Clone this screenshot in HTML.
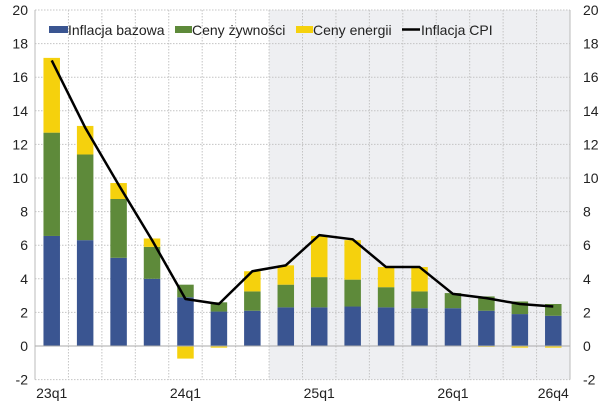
<!DOCTYPE html>
<html><head><meta charset="utf-8"><style>
html,body{margin:0;padding:0;background:#fff;}
svg{display:block;font-family:"Liberation Sans",Arial,sans-serif;}
</style></head><body>
<svg id="c" width="605" height="404" viewBox="0 0 605 404" xmlns="http://www.w3.org/2000/svg"></svg>
<script>
var s=document.getElementById('c'),h='';
var L=35,R=570,cw=(R-L)/16;
function Y(v){return 346-v*16.8;}
h+='<rect x="'+(L+7*cw)+'" y="'+Y(20)+'" width="'+(R-L-7*cw)+'" height="'+(Y(-2)-Y(20))+'" fill="#eeeff2"/>';
for(var v=-2;v<=20;v+=2){var y=Y(v);
 h+='<line x1="'+L+'" x2="'+R+'" y1="'+y+'" y2="'+y+'" stroke="#c4c4c4" stroke-dasharray="1.5,1.5"/>';
 h+='<text x="28" y="'+(y+5)+'" font-size="14" text-anchor="end" fill="#222">'+v+'</text>';
 h+='<text x="583" y="'+(y+5)+'" font-size="14" fill="#222">'+v+'</text>';}
for(var i=1;i<16;i++){var x=L+i*cw;h+='<line x1="'+x+'" x2="'+x+'" y1="'+Y(20)+'" y2="'+Y(-2)+'" stroke="#c4c4c4" stroke-dasharray="1.5,1.5"/>';}
var d=[[6.55,6.15,4.45,17.0],[6.3,5.1,1.7,13.0],[5.25,3.5,0.95,9.6],[4.0,1.9,0.5,6.3],[2.9,0.75,-0.75,2.8],[2.05,0.55,-0.1,2.5],[2.1,1.15,1.2,4.45],[2.3,1.35,1.15,4.8],[2.3,1.8,2.45,6.6],[2.35,1.6,2.35,6.35],[2.3,1.2,1.2,4.7],[2.25,1.0,1.45,4.7],[2.25,0.9,0,3.1],[2.1,0.85,-0.05,2.85],[1.9,0.75,-0.1,2.5],[1.8,0.7,-0.1,2.35]];
var col=['#3a5591','#5e8a3a','#f5d10d'],pts=[];
d.forEach(function(r,i){var cx=L+(i+0.5)*cw,bw=16.5,x=cx-bw/2,pos=0,neg=0;
 for(var k=0;k<3;k++){var v=r[k];if(v>=0){h+='<rect x="'+x+'" y="'+Y(pos+v)+'" width="'+bw+'" height="'+(v*16.8)+'" fill="'+col[k]+'"/>';pos+=v;}
 else{h+='<rect x="'+x+'" y="'+Y(neg)+'" width="'+bw+'" height="'+(-v*16.8)+'" fill="'+col[k]+'"/>';neg+=v;}}
 pts.push(cx+','+Y(r[3]));});
h+='<polyline points="'+pts.join(' ')+'" fill="none" stroke="#000" stroke-width="2.5" stroke-linejoin="round"/>';
h+='<line x1="'+L+'" x2="'+L+'" y1="'+Y(20)+'" y2="'+Y(-2)+'" stroke="#bbb"/>';
h+='<line x1="'+R+'" x2="'+R+'" y1="'+Y(20)+'" y2="'+Y(-2)+'" stroke="#bbb"/>';
h+='<line x1="'+L+'" x2="'+R+'" y1="'+Y(0)+'" y2="'+Y(0)+'" stroke="#aaa"/>';
[[0,'23q1'],[4,'24q1'],[8,'25q1'],[12,'26q1'],[15,'26q4']].forEach(function(a){
 h+='<text x="'+(L+(a[0]+0.5)*cw)+'" y="398" font-size="14" text-anchor="middle" fill="#222">'+a[1]+'</text>';});
h+='<rect x="49" y="26" width="19" height="7" fill="#3a5591"/><text x="68" y="35" font-size="14" fill="#222">Inflacja bazowa</text>';
h+='<rect x="175" y="26" width="17" height="7" fill="#5e8a3a"/><text x="192" y="35" font-size="14" fill="#222">Ceny żywności</text>';
h+='<rect x="296" y="26" width="17" height="7" fill="#f5d10d"/><text x="313" y="35" font-size="14" fill="#222">Ceny energii</text>';
h+='<line x1="402" x2="420" y1="29.5" y2="29.5" stroke="#000" stroke-width="2.5"/><text x="421" y="35" font-size="14" fill="#222">Inflacja CPI</text>';
s.innerHTML=h;
</script>
</body></html>
